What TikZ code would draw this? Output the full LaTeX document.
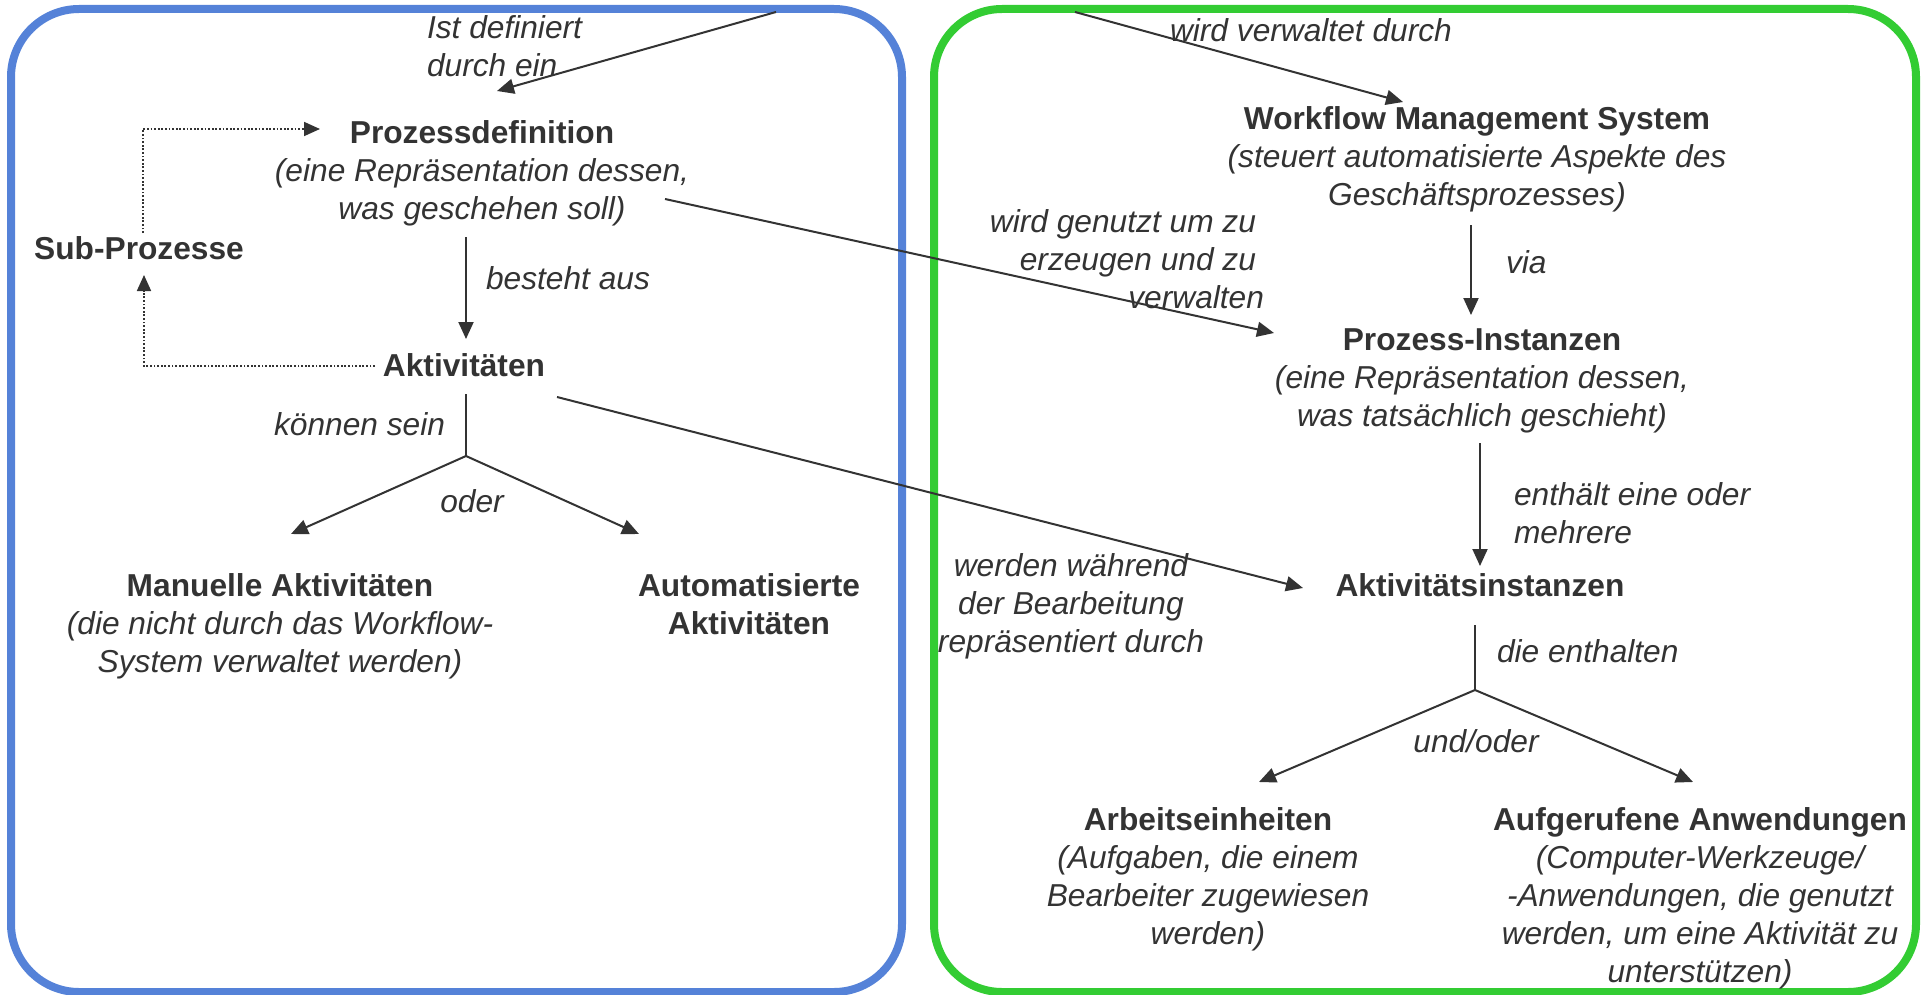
\documentclass[tikz,border=0pt]{standalone}
\usepackage{fontspec}
\setmainfont{Liberation Sans}
\usetikzlibrary{arrows.meta,calc}
\definecolor{txt}{HTML}{333333}
\definecolor{bluebox}{HTML}{5582D8}
\definecolor{greenbox}{HTML}{33CC33}
\newcommand{\mlines}[2]{\begin{tabular}[t]{@{}#1@{}}#2\end{tabular}}
\begin{document}
\begin{tikzpicture}[x=0.5pt,y=-0.5pt,
  every node/.style={inner sep=0pt, outer sep=0pt, text=txt, font=\fontsize{15.85}{19}\selectfont},
  lbl/.style={font=\fontsize{15.85}{19}\selectfont\itshape},
  ttl/.style={font=\fontsize{15.85}{19}\selectfont\bfseries},
  conn/.style={draw=txt, line width=1pt, -{Triangle[length=8.5pt,width=7.5pt]}},
  stem/.style={draw=txt, line width=1pt},
  dotarrow/.style={draw=txt, line width=0.9pt, dash pattern=on 0.9pt off 0.9pt, -{Triangle[length=8pt,width=7pt]}},
  boxframe/.style={line width=4pt, rounded corners=34pt}]
\useasboundingbox (0,0) rectangle (1928,995);
% frames
\draw[boxframe, draw=bluebox] (11,9) rectangle (902,992);
\draw[boxframe, draw=greenbox] (934,9) rectangle (1916,992);
% left part
\node[lbl, anchor=base west] (lDef) at (427,39) {\mlines{l}{Ist definiert\\durch ein}};
\node[anchor=base] (pd) at (482,144) {\mlines{c}{\textbf{Prozessdefinition}\\\itshape (eine Repräsentation dessen,\\\itshape was geschehen soll)}};
\node[ttl, anchor=base] (sub) at (139,259) {Sub-Prozesse};
\node[lbl, anchor=base west] (lBest) at (486,289) {besteht aus};
\node[ttl, anchor=base] (akt) at (464,376) {Aktivitäten};
\node[lbl, anchor=base east] (lKoen) at (445,435) {können sein};
\node[lbl, anchor=base] (lOder) at (472,512) {oder};
\node[anchor=base] (man) at (280,596) {\mlines{c}{\textbf{Manuelle Aktivitäten}\\\itshape (die nicht durch das Workflow-\\\itshape System verwaltet werden)}};
\node[ttl, anchor=base] (auto) at (749,596) {\mlines{c}{Automatisierte\\Aktivitäten}};
% right part
\node[lbl, anchor=base west] (lVerw) at (1170,42) {wird verwaltet durch};
\node[anchor=base] (wms) at (1477,130) {\mlines{c}{\textbf{Workflow Management System}\\\itshape (steuert automatisierte Aspekte des\\\itshape Geschäftsprozesses)}};
\node[lbl, anchor=base west] (lVia) at (1506,273) {via};
\node[lbl, anchor=base east] (lGen) at (1264,232) {\mlines{r}{wird genutzt um zu\rule{4pt}{0pt}\\erzeugen und zu\rule{4pt}{0pt}\\verwalten}};
\node[anchor=base] (pi) at (1482,350) {\mlines{c}{\textbf{Prozess-Instanzen}\\\itshape (eine Repräsentation dessen,\\\itshape was tatsächlich geschieht)}};
\node[lbl, anchor=base west] (lEnth) at (1514,505) {\mlines{l}{enthält eine oder\\mehrere}};
\node[ttl, anchor=base] (ai) at (1480,596) {Aktivitätsinstanzen};
\node[lbl, anchor=base] (lWaehr) at (1071,576) {\mlines{c}{werden während\\der Bearbeitung\\repräsentiert durch}};
\node[lbl, anchor=base west] (lDie) at (1497,662) {die enthalten};
\node[lbl, anchor=base] (lUnd) at (1476,752) {und/oder};
\node[anchor=base] (ae) at (1208,830) {\mlines{c}{\textbf{Arbeitseinheiten}\\\itshape (Aufgaben, die einem\\\itshape Bearbeiter zugewiesen\\\itshape werden)}};
\node[anchor=base] (aa) at (1700,830) {\mlines{c}{\textbf{Aufgerufene Anwendungen}\\\itshape (Computer-Werkzeuge/\\\itshape -Anwendungen, die genutzt\\\itshape werden, um eine Aktivität zu\\\itshape unterstützen)}};
% connectors
\coordinate (topA) at (776,12);
\coordinate (topB) at (1075,12);
\draw[conn] (topA) -- ($(pd.base)+(15,-53)$);
\draw[conn] (topB) -- ($(wms.base)+(-74,-28)$);
\draw[dotarrow] ($(sub.base)+(4,-26)$) |- ($(pd.base)+(-162,-15)$);
\draw[dotarrow] ($(akt.base)+(-89,-10)$) -| ($(sub.base)+(5,16)$);
\draw[conn] ($(pd.base)+(-16,93)$) -- ($(akt.base)+(2,-37)$);
\coordinate (sp1) at ($(akt.base)+(2,80)$);
\draw[stem] ($(akt.base)+(2,18)$) -- (sp1);
\draw[conn] (sp1) -- ($(man.base)+(11,-62)$);
\draw[conn] (sp1) -- ($(auto.base)+(-110,-62)$);
\draw[conn] ($(pd.base)+(183,55)$) -- ($(pi.base)+(-208,-17)$);
\draw[conn] ($(akt.base)+(93,21)$) -- ($(ai.base)+(-177,-8)$);
\draw[conn] ($(wms.base)+(-6,95)$) -- ($(pi.base)+(-11,-35)$);
\draw[conn] ($(pi.base)+(-2,93)$) -- ($(ai.base)+(0,-30)$);
\coordinate (sp2) at ($(ai.base)+(-5,94)$);
\draw[stem] ($(ai.base)+(-5,29)$) -- (sp2);
\draw[conn] (sp2) -- ($(ae.base)+(51,-48)$);
\draw[conn] (sp2) -- ($(aa.base)+(-7,-48)$);
\end{tikzpicture}
\end{document}
